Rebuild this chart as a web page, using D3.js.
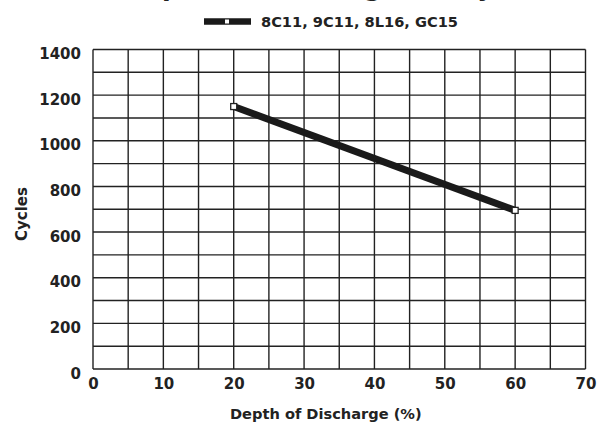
<html>
<head>
<script src="https://d3js.org/d3.v7.min.js"></script>
<style>
  body { margin: 0; background: #fff; }
  text { font-family: "DejaVu Sans", sans-serif; font-weight: bold; fill: #222; }
</style>
</head>
<body>
<svg width="605" height="426"></svg>
<script>
// data
var seriesName = "8C11, 9C11, 8L16, GC15";
var depth = [20, 60];          // depth of discharge (%)
var cycles = [1150, 695];      // cycles
var xTicks = [0, 10, 20, 30, 40, 50, 60, 70];
var yTicks = [0, 200, 400, 600, 800, 1000, 1200, 1400];

var svg = d3.select("svg");
var ink = "#222";

var x = d3.scaleLinear().domain([0, 70]).range([93, 585.5]);
var y = d3.scaleLinear().domain([0, 1400]).range([369, 49.5]);

// title, mostly cut off at the top edge (as in the original)
svg.append("text")
    .attr("x", 123.6).attr("y", -4)
    .style("font-size", "25.4px")
    .text("Depth of Discharge vs. Cycle Life");

// grid, every 5 % and every 100 cycles
var grid = svg.append("g").attr("stroke", ink).attr("stroke-width", 1.4);
grid.selectAll(".gx").data(d3.range(0, 71, 5)).enter().append("line")
    .attr("x1", function(d){ return x(d); }).attr("x2", function(d){ return x(d); })
    .attr("y1", y(0)).attr("y2", y(1400));
grid.selectAll(".gy").data(d3.range(0, 1401, 100)).enter().append("line")
    .attr("y1", function(d){ return y(d); }).attr("y2", function(d){ return y(d); })
    .attr("x1", x(0)).attr("x2", x(70));

// axes (labels only)
var xAxis = svg.append("g")
    .attr("transform", "translate(0," + y(0) + ")")
    .call(d3.axisBottom(x).tickValues(xTicks).tickFormat(d3.format("d")).tickSize(0).tickPadding(9));
var yAxis = svg.append("g")
    .attr("transform", "translate(" + x(0) + ",0)")
    .call(d3.axisLeft(y).tickValues(yTicks).tickFormat(d3.format("d")).tickSize(0).tickPadding(12));
[xAxis, yAxis].forEach(function(a){
    a.select(".domain").remove();
    a.selectAll("text")
        .attr("fill", ink)
        .style("font-family", '"DejaVu Sans", sans-serif')
        .style("font-weight", "bold")
        .style("font-size", "15px");
});
yAxis.selectAll("text").attr("dy", "0.6em");

// axis titles
svg.append("text")
    .attr("x", 230).attr("y", 419)
    .style("font-size", "14.6px")
    .text("Depth of Discharge (%)");
svg.append("text")
    .attr("transform", "translate(27,214) rotate(-90)")
    .attr("text-anchor", "middle")
    .style("font-size", "15px")
    .text("Cycles");

// series
var pts = depth.map(function(d, i){ return [d, cycles[i]]; });
svg.append("path")
    .datum(pts)
    .attr("fill", "none")
    .attr("stroke", "#1a1a1a")
    .attr("stroke-width", 7)
    .attr("d", d3.line().x(function(d){ return x(d[0]); }).y(function(d){ return y(d[1]); }));
svg.selectAll(".pt").data(pts).enter().append("rect")
    .attr("x", function(d){ return x(d[0]) - 3; })
    .attr("y", function(d){ return y(d[1]) - 3; })
    .attr("width", 6).attr("height", 6)
    .attr("fill", "#fff").attr("stroke", ink).attr("stroke-width", 1.3);

// legend
var lg = svg.append("g");
lg.append("line")
    .attr("x1", 204).attr("x2", 251).attr("y1", 21.5).attr("y2", 21.5)
    .attr("stroke", "#1a1a1a").attr("stroke-width", 6.5);
lg.append("rect")
    .attr("x", 225).attr("y", 19.5).attr("width", 4).attr("height", 4)
    .attr("fill", "#fff");
lg.append("text")
    .attr("x", 261).attr("y", 26.5)
    .style("font-size", "14.6px")
    .text(seriesName);
</script>
</body>
</html>
